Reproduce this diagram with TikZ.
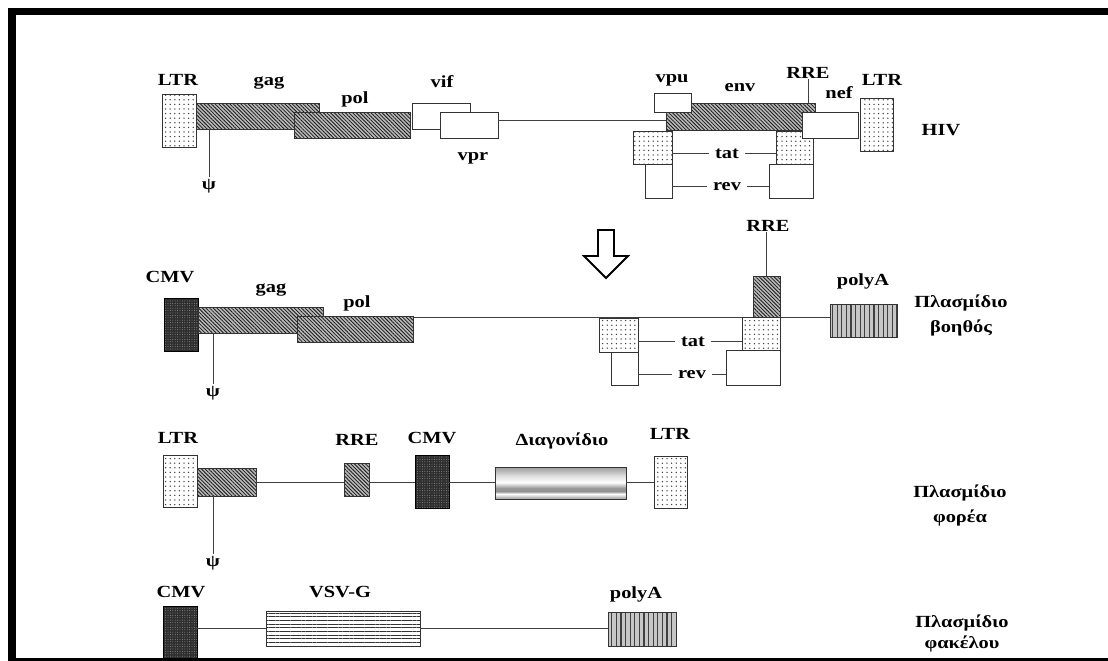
\documentclass[tikz,border=0pt]{standalone}
\usepackage{fontspec}
\setmainfont{Liberation Serif}
\newfontfamily\lblfont[FakeStretch=1.2]{Liberation Serif}
\usetikzlibrary{patterns.meta}
\pgfdeclareverticalshading{cyl}{100bp}{color(0bp)=(gray!75); color(25bp)=(gray!75); color(28bp)=(gray!50); color(33bp)=(white); color(37bp)=(gray!85); color(42bp)=(gray!80); color(51bp)=(white); color(61bp)=(gray!25); color(70bp)=(gray!60); color(75bp)=(gray!75); color(100bp)=(gray!75)}
\tikzset{
  bx/.style={draw=black!80, line width=0.9pt, inner sep=0pt, outer sep=0pt},
  plainbox/.style={bx, fill=white},
  dotbox/.style={bx, preaction={fill=white}, pattern={Dots[distance=4.6pt, radius=0.75pt]}, pattern color=black!75},
  hatchbox/.style={bx, preaction={fill=gray!55}, pattern={Lines[angle=-45, distance=2.6pt, line width=0.8pt]}, pattern color=black!90},
  cmvbox/.style={bx, draw=black, preaction={fill=black!82}, pattern={Dots[distance=2.4pt, radius=0.45pt]}, pattern color=gray!75},
  polyabox/.style={bx, preaction={fill=gray!45}, pattern={Lines[angle=90, distance=4.6pt, line width=1.2pt]}, pattern color=black!75},
  stripebox/.style={bx, preaction={fill=white}, pattern={Lines[distance=3.7pt, line width=0.6pt]}, pattern color=black!80},
  cylbox/.style={bx, shading=cyl},
  conn/.style={draw=black!75, line width=0.9pt},
  lbl/.style={font=\lblfont\bfseries\fontsize{17}{19}\selectfont, inner sep=1pt, anchor=base},
  sidelbl/.style={lbl, inner xsep=6pt},
  psilbl/.style={font=\lblfont\bfseries\fontsize{17}{19}\selectfont, inner sep=2pt},
}
\begin{document}
\begin{tikzpicture}[x=1pt,y=-1pt]
\useasboundingbox (0,0) rectangle (1108,661);
\fill[white] (0,0) rectangle (1108,661);

% ---------------- Row 1: HIV ----------------
\coordinate (bb1) at (0,120);
\node[dotbox, minimum width=34, minimum height=53] (ltrA) at (179,120.5) {};
\node[hatchbox, minimum width=123, minimum height=26] (gagA) at (257.5,116) {};
\node[hatchbox, minimum width=116, minimum height=26] (polA) at (352,125) {};
\node[plainbox, minimum width=58, minimum height=26] (vif) at (441,116) {};
\node[plainbox, minimum width=58, minimum height=26] (vpr) at (469,125) {};
\node[hatchbox, minimum width=149, minimum height=27] (env) at (740.5,116.5) {};
\draw[conn] (vpr.east |- bb1) -- (env.west |- bb1);
\node[plainbox, minimum width=37, minimum height=19] (vpu) at (672.5,102.5) {};
\node[dotbox, minimum width=39, minimum height=33] (tat1) at (652.5,147.5) {};
\node[plainbox, minimum width=27, minimum height=34] (rev1) at (658.5,181) {};
\node[dotbox, minimum width=37, minimum height=33] (tat2) at (794.5,147.5) {};
\node[plainbox, minimum width=44, minimum height=34] (rev2) at (791,181) {};
\node[plainbox, minimum width=56, minimum height=26] (nef) at (830,125) {};
\node[dotbox, minimum width=33, minimum height=53] (ltrB) at (877,124.5) {};

\node[lbl] (lLTR1) at (178,85) {LTR};
\node[lbl] (lgag1) at (269,85) {gag};
\node[lbl] (lpol1) at (355,103) {pol};
\node[lbl] (lvif) at (442,87) {vif};
\node[lbl] (lvpr) at (473,160) {vpr};
\node[lbl] (lvpu) at (672,82) {vpu};
\node[lbl] (lenv) at (740,91) {env};
\node[lbl] (lRRE1) at (808,78) {RRE};
\node[lbl] (lnef) at (839,98) {nef};
\node[lbl] (lLTR2) at (882,85) {LTR};
\node[lbl] (lHIV) at (941,135) {HIV};
\node[sidelbl] (ltat1) at (727,158) {tat};
\node[sidelbl] (lrev1) at (727,190) {rev};
\node[psilbl] (psi1) at (209,186) {ψ};

\draw[conn] (lRRE1.south) -- (lRRE1.south |- env.north);
\draw[conn] (psi1.north |- gagA.south) -- (psi1.north);
\draw[conn] (tat1.east |- ltat1.west) -- (ltat1.west);
\draw[conn] (ltat1.east) -- (tat2.west |- ltat1.east);
\draw[conn] (rev1.east |- lrev1.west) -- (lrev1.west);
\draw[conn] (lrev1.east) -- (rev2.west |- lrev1.east);

% arrow
\draw[line width=1.8pt, line join=miter, fill=white] (598,230) -- (614,230) -- (614,256) -- (628,256) -- (606,278) -- (584,256) -- (598,256) -- cycle;

% ---------------- Row 2: helper plasmid ----------------
\coordinate (bb2) at (0,317);
\node[cmvbox, minimum width=34, minimum height=53] (cmv2) at (181,324.5) {};
\node[hatchbox, minimum width=125, minimum height=26] (gag2) at (260.5,320) {};
\node[hatchbox, minimum width=116, minimum height=26] (pol2) at (355,329) {};
\node[polyabox, minimum width=67, minimum height=33] (polyA2) at (863.5,320.5) {};
\draw[conn] (pol2.east |- bb2) -- (polyA2.west |- bb2);
\node[dotbox, minimum width=39, minimum height=34] (tat3) at (618.5,335) {};
\node[plainbox, minimum width=27, minimum height=33] (rev3) at (624.5,368.5) {};
\node[hatchbox, minimum width=27, minimum height=41] (rre2) at (766.5,296.5) {};
\node[dotbox, minimum width=38, minimum height=33] (tat4) at (761,333.5) {};
\node[plainbox, minimum width=54, minimum height=35] (rev4) at (753,367.5) {};

\node[lbl] (lCMV2) at (170,282) {CMV};
\node[lbl] (lgag2) at (271,292) {gag};
\node[lbl] (lpol2) at (357,307) {pol};
\node[lbl] (lRRE2) at (768,231) {RRE};
\node[lbl] (lpolyA2) at (863,285) {polyA};
\node[sidelbl] (ltat2) at (693,346) {tat};
\node[sidelbl] (lrev2) at (692,378) {rev};
\node[psilbl] (psi2) at (213,393) {ψ};
\node[lbl] (lpl2a) at (961,307) {Πλασμίδιο};
\node[lbl] (lpl2b) at (961,332) {βοηθός};

\draw[conn] (rre2.north) -- (rre2.north |- lRRE2.south);
\draw[conn] (psi2.north |- gag2.south) -- (psi2.north);
\draw[conn] (tat3.east |- ltat2.west) -- (ltat2.west);
\draw[conn] (ltat2.east) -- (tat4.west |- ltat2.east);
\draw[conn] (rev3.east |- lrev2.west) -- (lrev2.west);
\draw[conn] (lrev2.east) -- (rev4.west |- lrev2.east);

% ---------------- Row 3: transfer plasmid ----------------
\coordinate (bb3) at (0,482);
\node[dotbox, minimum width=34, minimum height=52] (ltr3) at (180,481) {};
\node[hatchbox, minimum width=59, minimum height=28] (gag3) at (226.5,482) {};
\node[hatchbox, minimum width=25, minimum height=33] (rre3) at (356.5,479.5) {};
\node[cmvbox, minimum width=34, minimum height=53] (cmv3) at (432,481.5) {};
\node[cylbox, minimum width=131, minimum height=32] (trans) at (560.5,483) {};
\node[dotbox, minimum width=33, minimum height=52] (ltr4) at (670.5,482) {};
\draw[conn] (gag3.east |- bb3) -- (rre3.west |- bb3);
\draw[conn] (rre3.east |- bb3) -- (cmv3.west |- bb3);
\draw[conn] (cmv3.east |- bb3) -- (trans.west |- bb3);
\draw[conn] (trans.east |- bb3) -- (ltr4.west |- bb3);

\node[lbl] (lLTR3) at (178,443) {LTR};
\node[lbl] (lRRE3) at (357,445) {RRE};
\node[lbl] (lCMV3) at (432,443) {CMV};
\node[lbl] (ltrans) at (562,445) {Διαγονίδιο};
\node[lbl] (lLTR4) at (670,439) {LTR};
\node[psilbl] (psi3) at (213,563) {ψ};
\node[lbl] (lpl3a) at (960,497) {Πλασμίδιο};
\node[lbl] (lpl3b) at (960,522) {φορέα};
\draw[conn] (psi3.north |- gag3.south) -- (psi3.north);

% ---------------- Row 4: envelope plasmid ----------------
\coordinate (bb4) at (0,628);
\node[cmvbox, minimum width=34, minimum height=52] (cmv4) at (180,632) {};
\node[stripebox, minimum width=154, minimum height=35] (vsvg) at (343,628.5) {};
\node[polyabox, minimum width=68, minimum height=34] (polyA4) at (642,629) {};
\draw[conn] (cmv4.east |- bb4) -- (vsvg.west |- bb4);
\draw[conn] (vsvg.east |- bb4) -- (polyA4.west |- bb4);

\node[lbl] (lCMV4) at (181,597) {CMV};
\node[lbl] (lvsvg) at (340,597) {VSV-G};
\node[lbl] (lpolyA4) at (636,598) {polyA};
\node[lbl] (lpl4a) at (962,627) {Πλασμίδιο};
\node[lbl] (lpl4b) at (962,648) {φακέλου};

% ---------------- frame ----------------
\fill[black] (8,8) rectangle (1108,15);
\fill[black] (8,8) rectangle (16,661);
\fill[black] (8,657.5) rectangle (1108,661);
\end{tikzpicture}
\end{document}
